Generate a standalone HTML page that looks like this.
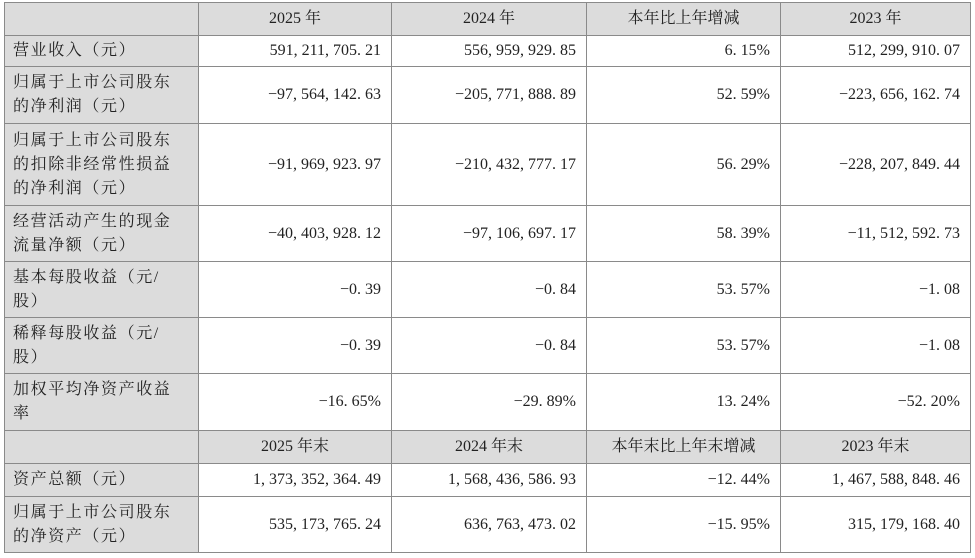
<!DOCTYPE html>
<html><head><meta charset="utf-8"><style>
html,body{margin:0;padding:0;background:#fff;width:975px;height:558px;overflow:hidden}
table{position:absolute;left:4px;top:2px;border-collapse:collapse;table-layout:fixed;font-family:"Liberation Serif","Noto Serif CJK SC",serif;font-size:16px;color:#222}
td{border:1.5px solid #8a8a8a;padding:0 10px;line-height:24px;vertical-align:middle;text-align:right;white-space:nowrap}
td.l{background:#dcdcdc;text-align:left;padding-left:8px;letter-spacing:1.6px}
tr.h td{background:#dcdcdc;text-align:center}
</style></head><body>
<table>
<colgroup><col style="width:194px"><col style="width:193px"><col style="width:195px"><col style="width:194px"><col style="width:190px"></colgroup>
<tr class="h" style="height:33px"><td></td><td>2025 年</td><td>2024 年</td><td>本年比上年增减</td><td>2023 年</td></tr>
<tr style="height:31px"><td class="l">营业收入（元）</td><td>591, 211, 705. 21</td><td>556, 959, 929. 85</td><td>6. 15%</td><td>512, 299, 910. 07</td></tr>
<tr style="height:57px"><td class="l">归属于上市公司股东<br>的净利润（元）</td><td>−97, 564, 142. 63</td><td>−205, 771, 888. 89</td><td>52. 59%</td><td>−223, 656, 162. 74</td></tr>
<tr style="height:82px"><td class="l">归属于上市公司股东<br>的扣除非经常性损益<br>的净利润（元）</td><td>−91, 969, 923. 97</td><td>−210, 432, 777. 17</td><td>56. 29%</td><td>−228, 207, 849. 44</td></tr>
<tr style="height:56px"><td class="l">经营活动产生的现金<br>流量净额（元）</td><td>−40, 403, 928. 12</td><td>−97, 106, 697. 17</td><td>58. 39%</td><td>−11, 512, 592. 73</td></tr>
<tr style="height:56px"><td class="l">基本每股收益（元/<br>股）</td><td>−0. 39</td><td>−0. 84</td><td>53. 57%</td><td>−1. 08</td></tr>
<tr style="height:56px"><td class="l">稀释每股收益（元/<br>股）</td><td>−0. 39</td><td>−0. 84</td><td>53. 57%</td><td>−1. 08</td></tr>
<tr style="height:57px"><td class="l">加权平均净资产收益<br>率</td><td>−16. 65%</td><td>−29. 89%</td><td>13. 24%</td><td>−52. 20%</td></tr>
<tr class="h" style="height:33px"><td></td><td>2025 年末</td><td>2024 年末</td><td>本年末比上年末增减</td><td>2023 年末</td></tr>
<tr style="height:33px"><td class="l">资产总额（元）</td><td>1, 373, 352, 364. 49</td><td>1, 568, 436, 586. 93</td><td>−12. 44%</td><td>1, 467, 588, 848. 46</td></tr>
<tr style="height:56px"><td class="l">归属于上市公司股东<br>的净资产（元）</td><td>535, 173, 765. 24</td><td>636, 763, 473. 02</td><td>−15. 95%</td><td>315, 179, 168. 40</td></tr>
</table>
</body></html>
